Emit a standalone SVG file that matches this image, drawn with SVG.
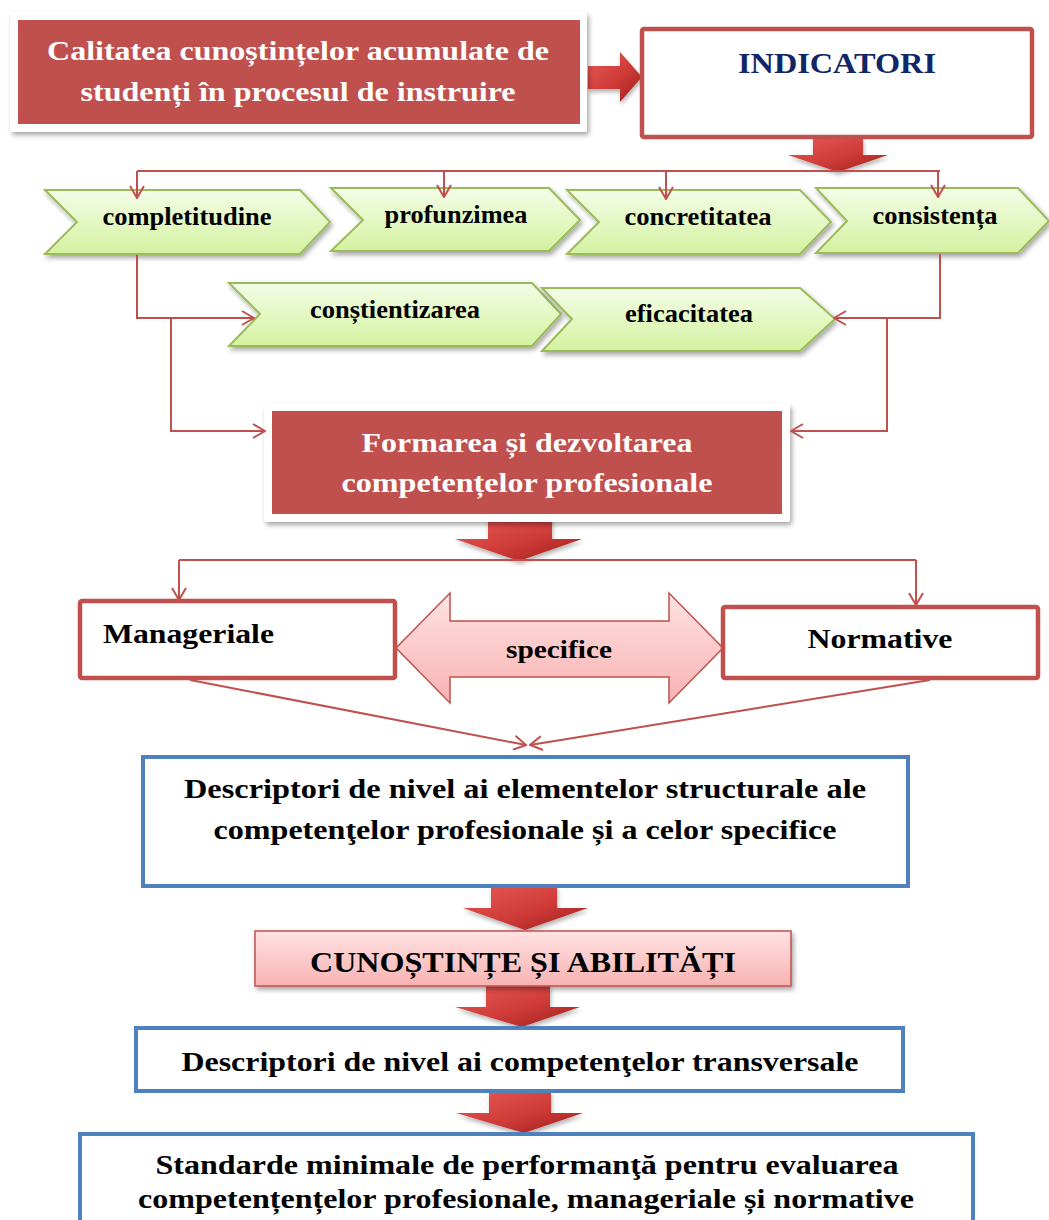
<svg xmlns="http://www.w3.org/2000/svg" width="1049" height="1220" viewBox="0 0 1049 1220">
<defs>
<style>
.t{font-family:"Liberation Serif","Times New Roman",serif;font-weight:bold;}
.wt{fill:#ffffff;font-size:28px;}
.bk{fill:#000000;}
.ch{fill:url(#gGreen);stroke:#9bbb59;stroke-width:2;filter:url(#sh);}
.con{fill:none;stroke:#c0504d;stroke-width:2;}
.ar{fill:none;stroke:#c0504d;stroke-width:2;marker-end:url(#open);}
.blk{fill:url(#gRed);filter:url(#sh2);}
.redbox{fill:#c0504d;}
.frame{fill:#ffffff;filter:url(#sh);}
.rb{fill:#ffffff;stroke:#c0504d;stroke-width:4.5;}
.bb{fill:#ffffff;stroke:#4f81bd;stroke-width:4;}
</style>
<linearGradient id="gGreen" x1="0" y1="0" x2="0" y2="1">
<stop offset="0" stop-color="#f4fde8"/>
<stop offset="1" stop-color="#d4f2a0"/>
</linearGradient>
<linearGradient id="gPink" x1="0" y1="0" x2="0" y2="1">
<stop offset="0" stop-color="#ffe2e2"/>
<stop offset="1" stop-color="#f8b2b2"/>
</linearGradient>
<linearGradient id="gRed" x1="0" y1="0" x2="1" y2="1">
<stop offset="0" stop-color="#e65a56"/>
<stop offset="0.55" stop-color="#cf3b37"/>
<stop offset="1" stop-color="#9c1c1c"/>
</linearGradient>
<filter id="sh" x="-10%" y="-20%" width="125%" height="150%">
<feDropShadow dx="2" dy="3" stdDeviation="2.5" flood-color="#000" flood-opacity="0.35"/>
</filter>
<filter id="sh2" x="-20%" y="-20%" width="140%" height="160%">
<feDropShadow dx="1" dy="3" stdDeviation="2" flood-color="#000" flood-opacity="0.3"/>
</filter>
<marker id="open" viewBox="0 0 14 16" refX="13" refY="8" markerWidth="14" markerHeight="16" markerUnits="userSpaceOnUse" orient="auto">
<path d="M1,1 L13,8 L1,15" fill="none" stroke="#c0504d" stroke-width="2"/>
</marker>
</defs>
<rect x="0" y="0" width="1049" height="1220" fill="#ffffff"/>

<g id="blockArrows">
<polygon class="blk" points="588,66 620,66 620,52 642,77 620,102 620,89 588,89"/>
<polygon class="blk" points="813,138 863,138 863,155 888,155 838,172 788,155 813,155"/>
<polygon class="blk" points="488,517 552,517 552,539 582,539 519,561 455,539 488,539"/>
<polygon class="blk" points="491,887 557,887 557,908 588,908 525,930 463,908 491,908"/>
<polygon class="blk" points="486,986 550,986 550,1007 580,1007 522,1027 455,1007 486,1007"/>
<polygon class="blk" points="489,1091 551,1091 551,1113 583,1113 524,1133 456,1113 489,1113"/>
</g>

<g id="n-calitatea">
<rect class="frame" x="10" y="12" width="577" height="120" rx="3"/>
<rect class="redbox" x="18" y="20" width="562" height="104"/>
<text class="t wt" x="298" y="60" text-anchor="middle" textLength="502" lengthAdjust="spacingAndGlyphs">Calitatea cunoștințelor acumulate de</text>
<text class="t wt" x="298" y="101" text-anchor="middle" textLength="435" lengthAdjust="spacingAndGlyphs">studenți în procesul de instruire</text>
</g>

<g id="n-indicatori">
<rect class="rb" x="642" y="29" width="390" height="108" rx="2"/>
<text class="t" x="837" y="73" text-anchor="middle" font-size="30" fill="#0f2667" textLength="198" lengthAdjust="spacingAndGlyphs">INDICATORI</text>
</g>

<g id="n-completitudine">
<polygon class="ch" points="45,190 300,190 330,222 300,254 45,254 77,222"/>
<text class="t bk" x="187" y="225" text-anchor="middle" font-size="25" textLength="169" lengthAdjust="spacingAndGlyphs">completitudine</text>
</g>
<g id="n-profunzimea">
<polygon class="ch" points="331,188 549,188 580,220 549,251 331,251 363,220"/>
<text class="t bk" x="456" y="223" text-anchor="middle" font-size="25" textLength="143" lengthAdjust="spacingAndGlyphs">profunzimea</text>
</g>
<g id="n-concretitatea">
<polygon class="ch" points="567,190 800,190 831,222 800,254 567,254 599,222"/>
<text class="t bk" x="698" y="225" text-anchor="middle" font-size="25" textLength="147" lengthAdjust="spacingAndGlyphs">concretitatea</text>
</g>
<g id="n-consistenta">
<polygon class="ch" points="816,188 1018,188 1049,221 1018,253 816,253 847,221"/>
<text class="t bk" x="935" y="224" text-anchor="middle" font-size="25" textLength="125" lengthAdjust="spacingAndGlyphs">consistența</text>
</g>
<g id="n-constientizarea">
<polygon class="ch" points="229,283 532,283 561,314 532,346 229,346 260,314"/>
<text class="t bk" x="395" y="318" text-anchor="middle" font-size="25" textLength="170" lengthAdjust="spacingAndGlyphs">conștientizarea</text>
</g>
<g id="n-eficacitatea">
<polygon class="ch" points="542,288 800,288 835,319 800,351 542,351 572,319"/>
<text class="t bk" x="689" y="322" text-anchor="middle" font-size="25" textLength="128" lengthAdjust="spacingAndGlyphs">eficacitatea</text>
</g>

<g id="n-formarea">
<rect class="frame" x="264" y="404" width="526" height="118" rx="3"/>
<rect class="redbox" x="272" y="411" width="510" height="103"/>
<text class="t wt" x="527" y="452" text-anchor="middle" textLength="331" lengthAdjust="spacingAndGlyphs">Formarea și dezvoltarea</text>
<text class="t wt" x="527" y="492" text-anchor="middle" textLength="371" lengthAdjust="spacingAndGlyphs">competențelor profesionale</text>
</g>

<g id="n-manageriale">
<rect class="rb" x="80" y="601" width="315" height="77" rx="2"/>
<text class="t bk" x="103" y="643" font-size="28" textLength="171" lengthAdjust="spacingAndGlyphs">Manageriale</text>
</g>

<g id="n-specifice">
<polygon points="396,648 450,593 450,621 669,621 669,593 723,648 669,703 669,677 450,677 450,703" fill="url(#gPink)" stroke="#c0504d" stroke-width="1.5"/>
<text class="t bk" x="559" y="658" text-anchor="middle" font-size="26" textLength="106" lengthAdjust="spacingAndGlyphs">specifice</text>
</g>

<g id="n-normative">
<rect class="rb" x="723" y="607" width="315" height="71" rx="2"/>
<text class="t bk" x="880" y="648" text-anchor="middle" font-size="28" textLength="145" lengthAdjust="spacingAndGlyphs">Normative</text>
</g>

<g id="n-descriptori1">
<rect class="bb" x="143" y="757" width="765" height="129"/>
<text class="t bk" x="525" y="798" text-anchor="middle" font-size="28" textLength="682" lengthAdjust="spacingAndGlyphs">Descriptori de nivel ai elementelor  structurale ale</text>
<text class="t bk" x="525" y="839" text-anchor="middle" font-size="28" textLength="623" lengthAdjust="spacingAndGlyphs">competenţelor profesionale și a celor specifice</text>
</g>

<g id="n-cunostinte">
<rect x="255" y="931" width="536" height="55" fill="url(#gPink)" stroke="#c0504d" stroke-width="1.5" filter="url(#sh)"/>
<text class="t bk" x="523" y="972" text-anchor="middle" font-size="30" textLength="426" lengthAdjust="spacingAndGlyphs">CUNOȘTINȚE ȘI ABILITĂȚI</text>
</g>

<g id="n-descriptori2">
<rect class="bb" x="136" y="1028" width="767" height="63"/>
<text class="t bk" x="520" y="1071" text-anchor="middle" font-size="28" textLength="677" lengthAdjust="spacingAndGlyphs">Descriptori de nivel ai competenţelor transversale</text>
</g>

<g id="n-standarde">
<rect class="bb" x="80" y="1134" width="893" height="100"/>
<text class="t bk" x="527" y="1174" text-anchor="middle" font-size="28" textLength="743" lengthAdjust="spacingAndGlyphs">Standarde minimale de performanţă pentru evaluarea</text>
<text class="t bk" x="526" y="1208" text-anchor="middle" font-size="28" textLength="776" lengthAdjust="spacingAndGlyphs">competențențelor profesionale, manageriale și normative</text>
</g>

<g id="connectors">
<path class="con" d="M137,171 H940"/>
<path class="ar" d="M137,171 V198"/>
<path class="ar" d="M444,171 V197"/>
<path class="ar" d="M666,171 V199"/>
<path class="ar" d="M938,171 V197"/>
<path class="ar" d="M137,255 V318 H254"/>
<path class="ar" d="M171,318 V431 H265"/>
<path class="ar" d="M940,254 V318 H834"/>
<path class="ar" d="M887,318 V431 H791"/>
<path class="con" d="M179,560 H916"/>
<path class="ar" d="M179,560 V600"/>
<path class="ar" d="M916,560 V605"/>
<path class="ar" d="M190,680 L526,745"/>
<path class="ar" d="M930,680 L530,745"/>
</g>
</svg>
